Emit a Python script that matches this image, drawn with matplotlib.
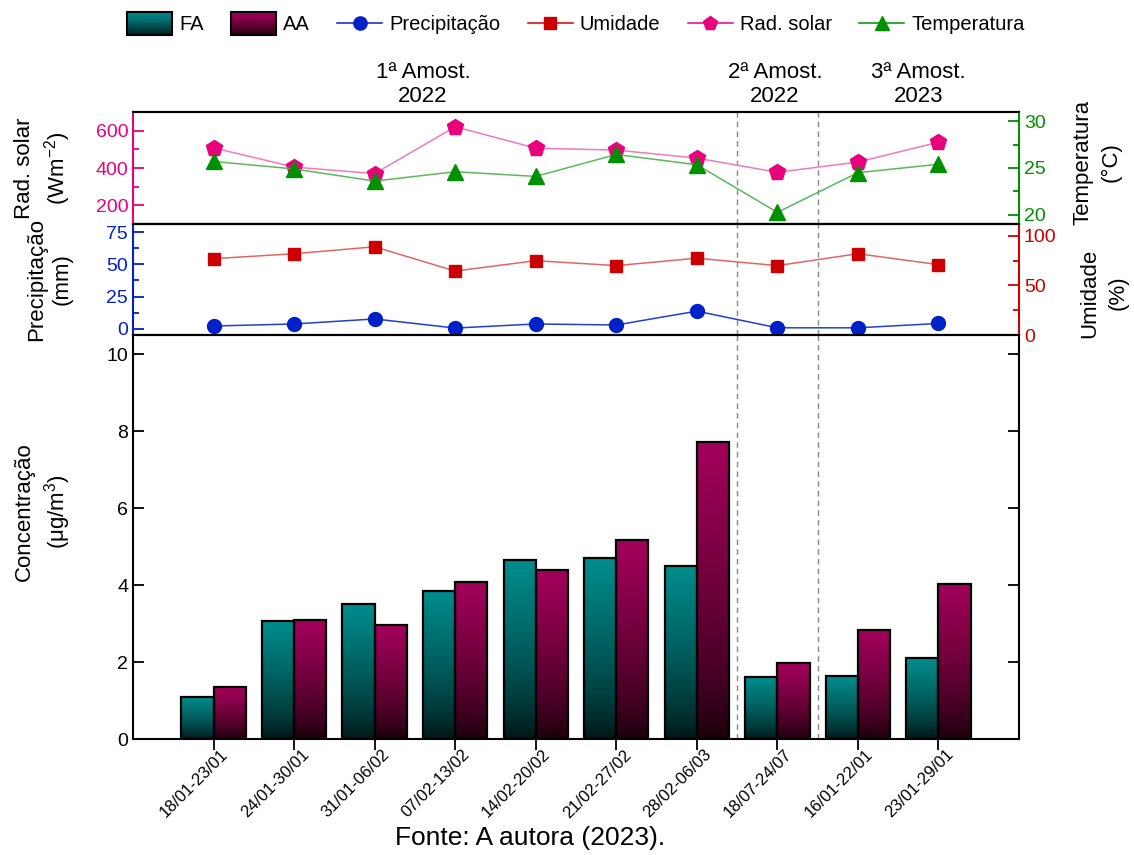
import numpy as np
import matplotlib
matplotlib.use('Agg')
import matplotlib.pyplot as plt
from matplotlib.colors import LinearSegmentedColormap, to_rgb
from matplotlib.legend_handler import HandlerBase
from matplotlib.lines import Line2D
from matplotlib.patches import Rectangle
from matplotlib.ticker import MultipleLocator
from matplotlib.transforms import blended_transform_factory, ScaledTranslation

plt.rcParams['font.family'] = ['Liberation Sans', 'DejaVu Sans']
plt.rcParams['mathtext.fontset'] = 'custom'
plt.rcParams['mathtext.rm'] = 'Liberation Sans'
plt.rcParams['mathtext.it'] = 'Liberation Sans:italic'

periods = ['18/01-23/01', '24/01-30/01', '31/01-06/02', '07/02-13/02', '14/02-20/02',
           '21/02-27/02', '28/02-06/03', '18/07-24/07', '16/01-22/01', '23/01-29/01']
fa = [1.10, 3.06, 3.50, 3.85, 4.64, 4.70, 4.50, 1.61, 1.63, 2.10]
aa = [1.35, 3.09, 2.96, 4.08, 4.39, 5.16, 7.72, 1.97, 2.83, 4.03]
precip = [2.0, 3.6, 7.5, 0.4, 3.6, 2.8, 13.6, 0.6, 0.6, 4.0]
umidade = [77, 82, 89, 64.5, 75, 70, 77.5, 70, 82, 71]
rad_solar = [508, 405, 370, 621, 506, 496, 453, 377, 432, 538]
temperatura = [25.7, 24.9, 23.6, 24.6, 24.1, 26.45, 25.35, 20.25, 24.5, 25.4]
campanhas = ['1ª Amost.\n2022', '2ª Amost.\n2022', '3ª Amost.\n2023']
campanha_x = [2.6, 6.97, 8.75]
divisas = [6.5, 7.5]

pink, pink_line = '#E8007D', '#F27AB6'
green, green_line = '#009000', '#5DB85D'
red, red_line = '#CC0000', '#E06666'
blue, blue_line = '#0020C8', '#2040D0'
fa_top, fa_dark = '#008C8C', '#001212'
aa_top, aa_dark = '#A3005A', '#160008'


def gradient_bars(ax, xs, heights, width, top, dark):
    cmap = LinearSegmentedColormap.from_list('grad', [dark, top])
    grad = (np.linspace(0, 1, 256) ** 0.7).reshape(-1, 1)
    for xc, h in zip(xs, heights):
        ax.imshow(grad, cmap=cmap, vmin=0, vmax=1, origin='lower', aspect='auto',
                  extent=[xc - width / 2, xc + width / 2, 0, h], zorder=2,
                  interpolation='bilinear')
    ax.bar(xs, heights, width, facecolor='none', edgecolor='black', linewidth=1.6, zorder=3)


class GradientPatchHandler(HandlerBase):
    def __init__(self, top, dark):
        super().__init__()
        self.top = np.array(to_rgb(top))
        self.dark = np.array(to_rgb(dark))

    def create_artists(self, legend, orig_handle, xdescent, ydescent, width, height, fontsize, trans):
        h = 1.1 * fontsize
        x0 = -xdescent
        y0 = -ydescent + height / 2 - h / 2
        n = 24
        arts = []
        for k in range(n):
            t = ((k + 0.5) / n) ** 0.7
            c = self.dark + (self.top - self.dark) * t
            arts.append(Rectangle((x0, y0 + k * h / n), width, h / n * 1.05, facecolor=c,
                                  edgecolor='none', transform=trans))
        arts.append(Rectangle((x0, y0), width, h, facecolor='none', edgecolor='black',
                              linewidth=1.5, transform=trans))
        return arts


fig = plt.figure(figsize=(11.34, 8.55), dpi=100)
L, W = 133 / 1134, 886 / 1134
ax_rad = fig.add_axes([L, 1 - 224 / 855, W, 112 / 855])
ax_pre = fig.add_axes([L, 1 - 335 / 855, W, 111 / 855])
ax_bar = fig.add_axes([L, 1 - 739 / 855, W, 404 / 855])
ax_tmp = ax_rad.twinx()
ax_umi = ax_pre.twinx()

x = np.arange(len(periods))

# meteorological series
ax_rad.plot(x, rad_solar, color=pink_line, lw=1.1, marker='p', ms=12, mfc=pink, mec=pink)
ax_tmp.plot(x, temperatura, color=green_line, lw=1.1, marker='^', ms=11, mfc=green, mec=green)
ax_pre.plot(x, precip, color=blue_line, lw=1.1, marker='o', ms=10, mfc=blue, mec=blue)
ax_umi.plot(x, umidade, color=red_line, lw=1.1, marker='s', ms=9, mfc=red, mec=red)

# concentration bars
bw = 0.4
gradient_bars(ax_bar, x - bw / 2, fa, bw, fa_top, fa_dark)
gradient_bars(ax_bar, x + bw / 2, aa, bw, aa_top, aa_dark)

for ax in (ax_rad, ax_pre, ax_bar):
    for d in divisas:
        ax.axvline(d, color='#888888', ls=(0, (4, 3)), lw=1, zorder=1)

ax_rad.set_ylim(100, 700)
ax_tmp.set_ylim(19, 31)
ax_pre.set_ylim(-5, 81.5)
ax_umi.set_ylim(0, 112)
ax_bar.set_ylim(0, 10.5)
for ax in (ax_rad, ax_tmp, ax_pre, ax_umi, ax_bar):
    ax.set_xlim(-1, 10)
    for s in ax.spines.values():
        s.set_linewidth(1.5)

ax_rad.yaxis.set_major_locator(MultipleLocator(200))
ax_rad.yaxis.set_minor_locator(MultipleLocator(100))
ax_tmp.yaxis.set_major_locator(MultipleLocator(5))
ax_tmp.yaxis.set_minor_locator(MultipleLocator(2.5))
ax_pre.yaxis.set_major_locator(MultipleLocator(25))
ax_pre.yaxis.set_minor_locator(MultipleLocator(12.5))
ax_umi.yaxis.set_major_locator(MultipleLocator(50))
ax_umi.yaxis.set_minor_locator(MultipleLocator(25))
ax_bar.yaxis.set_major_locator(MultipleLocator(2))

for ax, col, side in ((ax_rad, pink, 'left'), (ax_tmp, green, 'right'),
                      (ax_pre, blue, 'left'), (ax_umi, red, 'right')):
    ax.spines[side].set_color(col)
    ax.spines['left' if side == 'right' else 'right'].set_visible(False)
    ax.tick_params(axis='y', which='both', colors=col, direction='in', width=1.3, labelsize=14)
    ax.tick_params(axis='y', which='major', length=8)
    ax.tick_params(axis='y', which='minor', length=4.5)
    ax.tick_params(axis='x', bottom=False, labelbottom=False)

ax_bar.tick_params(axis='y', direction='in', length=8, width=1.3, labelsize=14, right=True)
ax_bar.set_xticks(x, periods, rotation=45, ha='right', rotation_mode='anchor', fontsize=12)
ax_bar.tick_params(axis='x', direction='out', length=8, width=1.3)
shift = ScaledTranslation(0.07, 0.08, fig.dpi_scale_trans)
for lab in ax_bar.get_xticklabels():
    lab.set_transform(lab.get_transform() + shift)

ax_rad.set_ylabel('Rad. solar\n(Wm$^{-2}$)', fontsize=16, linespacing=1.3)
ax_rad.yaxis.set_label_coords(-0.068, 0.5)
ax_pre.set_ylabel('Precipitação\n(mm)', fontsize=16, linespacing=1.3)
ax_pre.yaxis.set_label_coords(-0.068, 0.5)
ax_bar.set_ylabel('Concentração\n(μg/m$^{3}$)', fontsize=16, linespacing=1.3)
ax_bar.yaxis.set_label_coords(-0.068, 0.562)
ax_tmp.set_ylabel('Temperatura\n(°C)', fontsize=16, linespacing=1.45)
ax_tmp.yaxis.set_label_coords(1.060, 0.554)
ax_umi.set_ylabel('Umidade\n(%)', fontsize=16, linespacing=1.45)
ax_umi.yaxis.set_label_coords(1.068, 0.378)

trans = blended_transform_factory(ax_rad.transData, fig.transFigure)
for label, xc in zip(campanhas, campanha_x):
    ax_rad.text(xc, 1 - 84.5 / 855, label, transform=trans, ha='center', va='center',
                fontsize=16, linespacing=1.15)

fa_handle = Rectangle((0, 0), 1, 1)
aa_handle = Rectangle((0, 0), 1, 1)
handles = [fa_handle, aa_handle,
           Line2D([], [], color=blue, lw=1.1, marker='o', ms=9.5, mfc=blue, mec=blue),
           Line2D([], [], color=red, lw=1.1, marker='s', ms=8, mfc=red, mec=red),
           Line2D([], [], color=pink, lw=1.1, marker='p', ms=10.5, mfc=pink, mec=pink),
           Line2D([], [], color=green, lw=1.1, marker='^', ms=10, mfc=green, mec=green)]
labels = ['FA', 'AA', 'Precipitação', 'Umidade', 'Rad. solar', 'Temperatura']
fig.legend(handles, labels, loc='center', bbox_to_anchor=(576 / 1134, 1 - 25 / 855), ncol=6,
           frameon=False, fontsize=14.5, handlelength=2.24, handletextpad=0.35,
           columnspacing=1.35,
           handler_map={fa_handle: GradientPatchHandler(fa_top, fa_dark),
                        aa_handle: GradientPatchHandler(aa_top, aa_dark)})

fig.text(530 / 1134, 1 - 838 / 855, 'Fonte: A autora (2023).', ha='center', va='center', fontsize=19)

fig.savefig('out.png', dpi=100)
